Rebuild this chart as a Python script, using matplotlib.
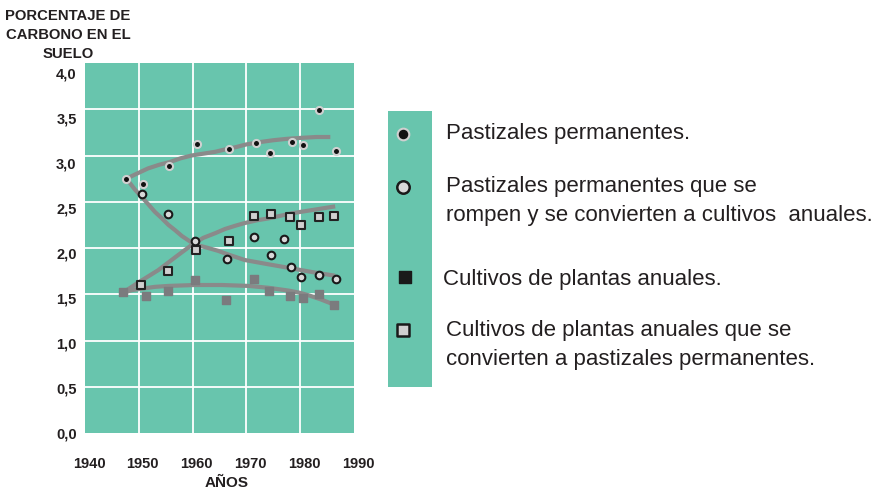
import matplotlib.pyplot as plt
from matplotlib.transforms import ScaledTranslation

plt.rcParams['font.family'] = ['Liberation Sans', 'DejaVu Sans']

# Pastizales permanentes
perm_years = [1947.7, 1950.8, 1955.7, 1960.8, 1966.8, 1971.7, 1974.4, 1978.5, 1980.5, 1983.5, 1986.6]
perm_vals = [2.75, 2.69, 2.89, 3.12, 3.07, 3.14, 3.03, 3.15, 3.11, 3.49, 3.05]
perm_fit_x = [1947.7, 1949.5, 1951.7, 1953.8, 1955.8, 1957.8, 1959.8, 1962, 1964.2, 1966, 1968, 1970, 1972.5, 1975, 1977.5, 1980, 1983, 1985.6]
perm_fit_y = [2.75, 2.80, 2.86, 2.90, 2.93, 2.97, 3.00, 3.02, 3.04, 3.065, 3.09, 3.12, 3.145, 3.165, 3.18, 3.19, 3.20, 3.20]

# Pastizales que se rompen -> cultivos anuales
rota_years = [1950.6, 1955.5, 1960.5, 1966.4, 1971.5, 1974.6, 1976.9, 1978.2, 1980.2, 1983.5, 1986.6]
rota_vals = [2.58, 2.37, 2.08, 1.88, 2.12, 1.92, 2.10, 1.79, 1.69, 1.71, 1.67]
rota_fit_x = [1947.7, 1949.3, 1950.5, 1951.8, 1953.0, 1954.3, 1955.5, 1956.8, 1958.0, 1959.8, 1961.3, 1962.9, 1964.7, 1966.6, 1969.7, 1973.5, 1978.4, 1982.2, 1986.5]
rota_fit_y = [2.75, 2.63, 2.555, 2.47, 2.39, 2.32, 2.25, 2.19, 2.13, 2.06, 2.025, 2.00, 1.97, 1.93, 1.87, 1.83, 1.78, 1.74, 1.70]

# Cultivos de plantas anuales
cult_years = [1947.1, 1951.3, 1955.5, 1960.5, 1966.3, 1971.4, 1974.2, 1978.1, 1980.5, 1983.5, 1986.2]
cult_vals = [1.52, 1.48, 1.54, 1.65, 1.44, 1.66, 1.53, 1.48, 1.46, 1.50, 1.38]
cult_fit_x = [1947.1, 1948.8, 1950.5, 1953, 1955.5, 1958, 1960.4, 1965.4, 1970.4, 1974.1, 1977.8, 1980, 1981.5, 1983.8, 1986.2]
cult_fit_y = [1.52, 1.545, 1.56, 1.58, 1.59, 1.595, 1.60, 1.60, 1.59, 1.57, 1.54, 1.515, 1.49, 1.445, 1.39]

# Cultivos que se convierten a pastizales
conv_years = [1950.5, 1955.4, 1960.7, 1966.8, 1971.5, 1974.5, 1978.1, 1980.1, 1983.5, 1986.3]
conv_vals = [1.60, 1.75, 1.98, 2.08, 2.35, 2.37, 2.34, 2.25, 2.33, 2.35]
conv_fit_x = [1947.1, 1950, 1953.6, 1957, 1960, 1962, 1964.2, 1966, 1967.9, 1969.7, 1972, 1974.1, 1978.4, 1982.2, 1986.5]
conv_fit_y = [1.52, 1.63, 1.76, 1.91, 2.04, 2.11, 2.16, 2.205, 2.24, 2.27, 2.30, 2.32, 2.375, 2.41, 2.45]

y_ticks = [0, 0.5, 1.0, 1.5, 2.0, 2.5, 3.0, 3.5, 4.0]
y_labels = ['0,0', '0,5', '1,0', '1,5', '2,0', '2,5', '3,0', '3,5', '4,0']
x_ticks = [1940, 1950, 1960, 1970, 1980, 1990]

legend_labels = ['Pastizales permanentes.',
                 'Pastizales permanentes que se\nrompen y se convierten a cultivos  anuales.',
                 'Cultivos de plantas anuales.',
                 'Cultivos de plantas anuales que se\nconvierten a pastizales permanentes.']

green = '#68c5ad'
curve = '#8a8a8a'
ink = '#231f20'

fig = plt.figure(figsize=(8.84, 4.9), dpi=100)
ax = fig.add_axes([85 / 884, 1 - 433 / 490, 269 / 884, 370 / 490])
ax.set_facecolor(green)
for s in ax.spines.values():
    s.set_visible(False)
ax.set_xlim(1940, 1990)
ax.set_ylim(0, 4.0)
for x in x_ticks[1:-1]:
    ax.axvline(x, color='white', lw=1.3, zorder=1)
for y in y_ticks[1:-1]:
    ax.axhline(y, color='white', lw=1.3, zorder=1)

for fx, fy in [(perm_fit_x, perm_fit_y), (rota_fit_x, rota_fit_y),
               (cult_fit_x, cult_fit_y), (conv_fit_x, conv_fit_y)]:
    ax.plot(fx, fy, color=curve, lw=3, solid_capstyle='butt', solid_joinstyle='round', zorder=2)

ax.scatter(cult_years, cult_vals, marker='s', s=36, color='#7b7b7e', zorder=3)
ax.scatter(conv_years, conv_vals, marker='s', s=34, facecolor='#d0d0d0', edgecolor='#222222', lw=1.5, zorder=3)
ax.scatter(rota_years, rota_vals, marker='o', s=30, facecolor='#d8d8d8', edgecolor='#1a1a1a', lw=1.5, zorder=3)
ax.scatter(perm_years, perm_vals, marker='o', s=26, facecolor='#111111', edgecolor='#d0d0d0', lw=1.5, zorder=4)

ax.set_xticks(x_ticks)
ax.set_xticklabels([str(x) for x in x_ticks], fontsize=10.5, fontweight='bold', color=ink)
ax.set_yticks(y_ticks)
ax.set_yticklabels(y_labels, fontsize=10.5, fontweight='bold', color=ink)
ax.tick_params(length=0)
ax.tick_params(axis='x', pad=17)
ax.tick_params(axis='y', pad=6)
for lab in ax.get_xticklabels():
    lab.set_transform(lab.get_transform() + ScaledTranslation(4 / 100, 0, fig.dpi_scale_trans))
for v, lab in zip(y_ticks, ax.get_yticklabels()):
    lab.set_transform(lab.get_transform() + ScaledTranslation(0, -v * 2.5 / 100, fig.dpi_scale_trans))

fig.text(227 / 884, 1 - 483 / 490, 'AÑOS', ha='center', va='center', fontsize=11, fontweight='bold', color=ink)
fig.text(68 / 884, 1 - 35 / 490, 'PORCENTAJE DE\nCARBONO EN EL\nSUELO', ha='center', va='center',
         fontsize=10.7, fontweight='bold', linespacing=1.42, color=ink)

# legend panel
lax = fig.add_axes([388 / 884, 1 - 387 / 490, 44 / 884, 276 / 490])
lax.set_facecolor(green)
lax.set_xticks([])
lax.set_yticks([])
for s in lax.spines.values():
    s.set_visible(False)
lax.set_xlim(0, 1)
lax.set_ylim(387, 111)
lax.scatter([0.35], [134], marker='o', s=70, facecolor='#111111', edgecolor='#d0d0d0', lw=1.5)
lax.scatter([0.35], [187], marker='o', s=80, facecolor='#d8d8d8', edgecolor='#1a1a1a', lw=1.8)
lax.scatter([0.39], [277], marker='s', s=80, color='#1a1a1a')
lax.scatter([0.35], [330], marker='s', s=80, facecolor='#d0d0d0', edgecolor='#1a1a1a', lw=1.8)

text_y = [133, 201, 279, 345]
text_x = [446, 446, 443, 446]
for lbl, tx, ty in zip(legend_labels, text_x, text_y):
    fig.text(tx / 884, 1 - ty / 490, lbl, ha='left', va='center', fontsize=16,
             color=ink, linespacing=1.45)

plt.savefig('out.png', dpi=100)
